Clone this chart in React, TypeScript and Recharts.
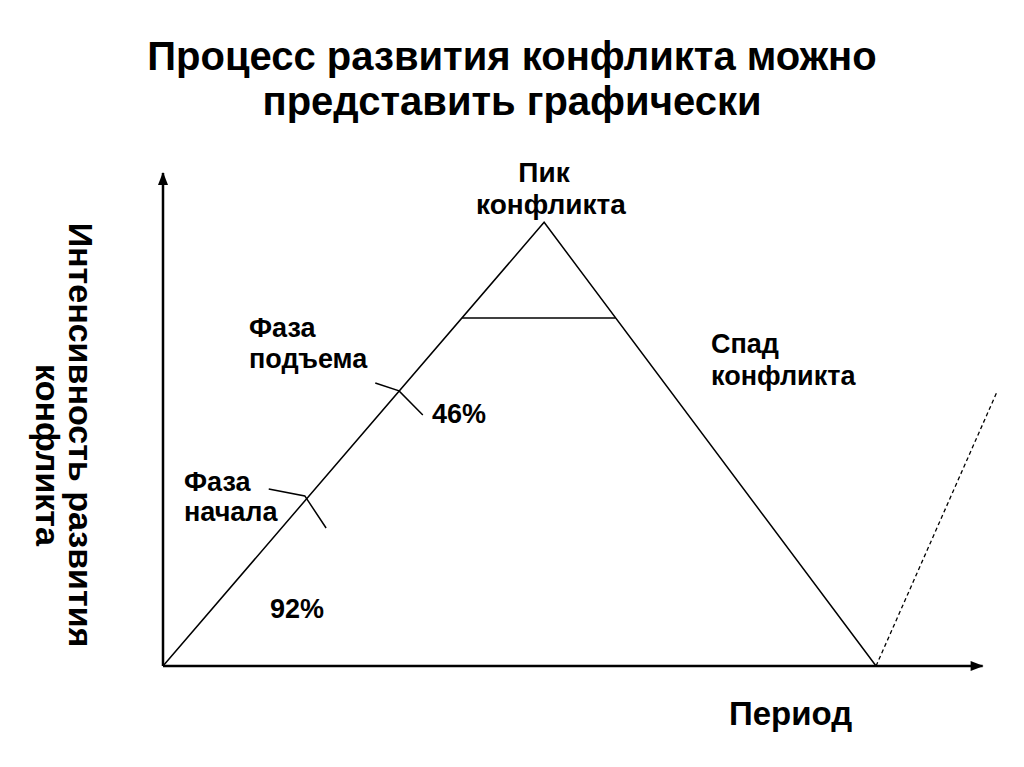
import React from "react";
import { ComposedChart, Line, XAxis, YAxis } from "recharts";

// Axis extents (period / intensity, arbitrary units)
const periodAxisX = [0, 100];
const periodAxisY = [0, 0];
const intensityAxisX = [0, 0];
const intensityAxisY = [0, 100];

// Conflict curve: start -> peak -> decline
const conflictX = [0, 46.5, 87];
const conflictY = [0, 90, 0];

// Horizontal line under the peak
const plateauX = [36.5, 55.2];
const plateauY = [70.6, 70.6];

// Possible renewal of the conflict (dashed)
const renewalX = [87, 101.7];
const renewalY = [0, 55.4];

// Leader marks on the rising side
const riseMarkX = [25.9, 28.8, 31.7];
const riseMarkY = [57.4, 55.8, 50.9];
const startMarkX = [12.9, 17.3, 19.9];
const startMarkY = [35.9, 34.5, 28.0];

const toPoints = (xs: number[], ys: number[]) => xs.map((x, i) => ({ x, y: ys[i] }));

const FONT = "'Liberation Sans', Arial, sans-serif";

const arrowRight = (props: any) =>
  props.index === 1 ? (
    <polygon
      key={`ar-${props.index}`}
      points={`${props.cx + 1},${props.cy} ${props.cx - 12},${props.cy - 5} ${props.cx - 12},${props.cy + 5}`}
      fill="#000"
    />
  ) : (
    <g key={`ar-${props.index}`} />
  );

const arrowUp = (props: any) =>
  props.index === 1 ? (
    <polygon
      key={`au-${props.index}`}
      points={`${props.cx},${props.cy - 1} ${props.cx - 5},${props.cy + 12} ${props.cx + 5},${props.cy + 12}`}
      fill="#000"
    />
  ) : (
    <g key={`au-${props.index}`} />
  );

const thin = { stroke: "#000", strokeWidth: 1.5, dot: false, type: "linear" as const, isAnimationActive: false };

export default function App() {
  return (
    <div style={{ position: "absolute", left: 0, top: 0, width: 1024, height: 767, background: "#fff" }}>
      <ComposedChart width={1024} height={767} margin={{ top: 173, left: 163, right: 25, bottom: 101 }}>
        <XAxis dataKey="x" type="number" domain={[0, 102]} hide />
        <YAxis type="number" domain={[0, 100]} hide />
        <Line data={toPoints(periodAxisX, periodAxisY)} dataKey="y" type="linear" stroke="#000" strokeWidth={2.5} dot={arrowRight} isAnimationActive={false} />
        <Line data={toPoints(intensityAxisX, intensityAxisY)} dataKey="y" type="linear" stroke="#000" strokeWidth={2.5} dot={arrowUp} isAnimationActive={false} />
        <Line data={toPoints(conflictX, conflictY)} dataKey="y" {...thin} />
        <Line data={toPoints(plateauX, plateauY)} dataKey="y" {...thin} />
        <Line data={toPoints(riseMarkX, riseMarkY)} dataKey="y" {...thin} />
        <Line data={toPoints(startMarkX, startMarkY)} dataKey="y" {...thin} />
        <Line data={toPoints(renewalX, renewalY)} dataKey="y" {...thin} strokeWidth={1.3} strokeDasharray="4 3" />
      </ComposedChart>

      <svg width={1024} height={767} style={{ position: "absolute", left: 0, top: 0, pointerEvents: "none" }}>
        <g fontFamily={FONT} fontWeight="bold" fill="#000">
          <text x={512} y={70} fontSize={40} textAnchor="middle">Процесс развития конфликта можно</text>
          <text x={512} y={115} fontSize={40} textAnchor="middle">представить графически</text>

          <text x={544} y={182} fontSize={28} textAnchor="middle">Пик</text>
          <text x={551} y={214} fontSize={28} textAnchor="middle">конфликта</text>

          <text x={249} y={337} fontSize={27}>Фаза</text>
          <text x={249} y={368} fontSize={27}>подъема</text>
          <text x={432} y={423} fontSize={27}>46%</text>

          <text x={184} y={491} fontSize={27}>Фаза</text>
          <text x={184} y={521} fontSize={27}>начала</text>
          <text x={270} y={618} fontSize={27}>92%</text>

          <text x={711} y={353} fontSize={27}>Спад</text>
          <text x={711} y={385} fontSize={27}>конфликта</text>

          <text x={729} y={725} fontSize={33}>Период</text>

          <text x={69} y={435} fontSize={34} textAnchor="middle" transform="rotate(90 69 435)">Интенсивность развития</text>
          <text x={36} y={455} fontSize={34} textAnchor="middle" transform="rotate(90 36 455)">конфликта</text>
        </g>
      </svg>
    </div>
  );
}
